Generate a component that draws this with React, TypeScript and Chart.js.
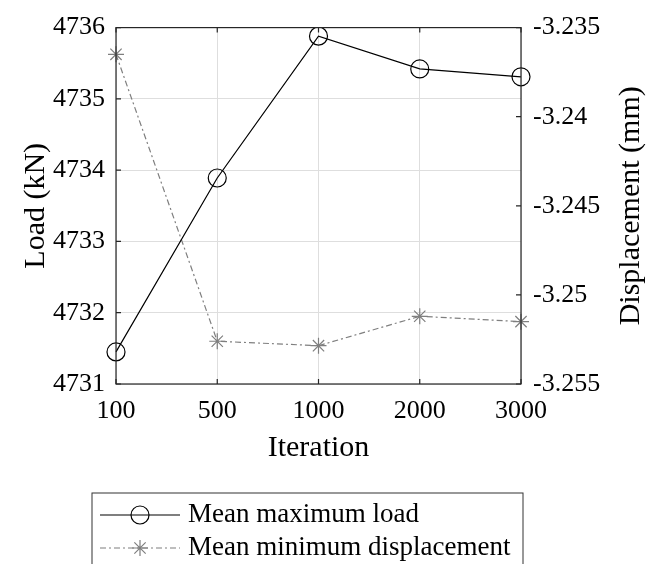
import React, { useEffect, useRef } from "react";
import { Chart, registerables } from "chart.js";

Chart.register(...registerables);

const iterations = ["100", "500", "1000", "2000", "3000"];
const meanMaxLoad = [4731.45, 4733.89, 4735.88, 4735.42, 4735.31];
const meanMinDisp = [-3.2365, -3.2526, -3.25285, -3.2512, -3.2515];
const legendLabels = ["Mean maximum load", "Mean minimum displacement"];
const rightTitle = "Displacement (mm)";

const FONT = "'Liberation Serif', 'Times New Roman', serif";
const FRAME = "#262626";
const GRID = "#dedede";
const GRAY = "#7f7f7f";

const framePlugin = {
  id: "framePlugin",
  afterDraw(chart: any) {
    const { ctx, chartArea, scales } = chart;
    const { left, right, top, bottom } = chartArea;
    ctx.save();
    ctx.strokeStyle = FRAME;
    ctx.lineWidth = 1.2;
    const tl = 5;
    ctx.beginPath();
    scales.x.ticks.forEach((_t: any, i: number) => {
      const x = scales.x.getPixelForTick(i);
      ctx.moveTo(x, bottom);
      ctx.lineTo(x, bottom - tl);
      ctx.moveTo(x, top);
      ctx.lineTo(x, top + tl);
    });
    scales.y.ticks.forEach((t: any) => {
      const y = scales.y.getPixelForValue(t.value);
      ctx.moveTo(left, y);
      ctx.lineTo(left + tl, y);
    });
    scales.y1.ticks.forEach((t: any) => {
      const y = scales.y1.getPixelForValue(t.value);
      ctx.moveTo(right, y);
      ctx.lineTo(right - tl, y);
    });
    ctx.stroke();
    ctx.strokeRect(left, top, right - left, bottom - top);

    // right axis title, reading bottom-to-top
    ctx.save();
    ctx.translate(631, (top + bottom) / 2);
    ctx.rotate(-Math.PI / 2);
    ctx.font = `30px ${FONT}`;
    ctx.fillStyle = "#000";
    ctx.textAlign = "center";
    ctx.textBaseline = "middle";
    ctx.fillText(rightTitle, 0, 0);
    ctx.restore();

    // legend
    const bx = 92, by = 493, bw = 431, bh = 100;
    ctx.lineWidth = 1;
    ctx.strokeStyle = "#333";
    ctx.strokeRect(bx, by, bw, bh);
    const rows = [515, 548];
    const ds = chart.data.datasets;
    ctx.font = `27px ${FONT}`;
    ctx.textBaseline = "middle";
    ctx.textAlign = "left";
    rows.forEach((y, i) => {
      const d = ds[i];
      ctx.strokeStyle = d.borderColor;
      ctx.lineWidth = d.borderWidth;
      ctx.setLineDash(d.borderDash || []);
      ctx.beginPath();
      ctx.moveTo(100, y);
      ctx.lineTo(180, y);
      ctx.stroke();
      ctx.setLineDash([]);
      ctx.beginPath();
      if (i === 0) {
        ctx.arc(140, y, d.pointRadius, 0, Math.PI * 2);
      } else {
        const r = d.pointRadius;
        for (let k = 0; k < 4; k++) {
          const a = (k * Math.PI) / 4;
          ctx.moveTo(140 + r * Math.cos(a), y + r * Math.sin(a));
          ctx.lineTo(140 - r * Math.cos(a), y - r * Math.sin(a));
        }
      }
      ctx.stroke();
      ctx.fillStyle = "#000";
      ctx.fillText(legendLabels[i], 188, y);
    });
    ctx.restore();
  },
};

export default function App() {
  const ref = useRef<HTMLCanvasElement>(null);
  useEffect(() => {
    const canvas = ref.current!;
    const chart = new Chart(canvas, {
      type: "line",
      data: {
        labels: iterations,
        datasets: [
          {
            label: legendLabels[0],
            data: meanMaxLoad,
            yAxisID: "y",
            borderColor: "#000",
            borderWidth: 1.2,
            pointStyle: "circle",
            pointRadius: 9,
            pointBorderWidth: 1.2,
            pointBackgroundColor: "rgba(0,0,0,0)",
            pointBorderColor: "#000",
            tension: 0,
          } as any,
          {
            label: legendLabels[1],
            data: meanMinDisp,
            yAxisID: "y1",
            borderColor: GRAY,
            borderWidth: 1.2,
            borderDash: [6, 3, 2, 3],
            pointStyle: "star",
            pointRadius: 8,
            pointBorderWidth: 1.2,
            pointBackgroundColor: GRAY,
            pointBorderColor: GRAY,
            tension: 0,
          } as any,
        ],
      },
      options: {
        responsive: false,
        animation: false,
        devicePixelRatio: 1,
        layout: { padding: { left: 18, right: 11, top: 23, bottom: 98 } },
        plugins: { legend: { display: false }, tooltip: { enabled: false } },
        scales: {
          x: {
            type: "category",
            offset: false,
            grid: { color: GRID, lineWidth: 1, drawTicks: false },
            border: { display: false },
            ticks: { color: "#000", font: { family: FONT, size: 26 }, padding: 12, maxRotation: 0 },
            title: { display: true, text: "Iteration", color: "#000", font: { family: FONT, size: 30 }, padding: 0 },
            afterFit: (s: any) => { s.height = 82; },
          },
          y: {
            position: "left",
            min: 4731,
            max: 4736,
            ticks: {
              stepSize: 1,
              color: "#000",
              font: { family: FONT, size: 26 },
              padding: 11,
              callback: (v: any) => String(Math.round(Number(v))),
            },
            grid: { color: GRID, lineWidth: 1, drawTicks: false },
            border: { display: false },
            title: { display: true, text: "Load (kN)", color: "#000", font: { family: FONT, size: 30 }, padding: 0 },
            afterFit: (s: any) => { s.width = 98; },
          },
          y1: {
            position: "right",
            min: -3.255,
            max: -3.235,
            ticks: {
              stepSize: 0.005,
              color: "#000",
              font: { family: FONT, size: 26 },
              padding: 12,
              callback: (v: any) => String(Math.round(Number(v) * 1000) / 1000),
            },
            grid: { display: false, drawTicks: false },
            border: { display: false },
            title: { display: false },
            afterFit: (s: any) => { s.width = 125; },
          },
        },
      },
      plugins: [framePlugin],
    } as any);
    return () => chart.destroy();
  }, []);
  return (
    <div style={{ position: "absolute", left: 0, top: 0, width: 657, height: 564, background: "#fff" }}>
      <canvas ref={ref} width={657} height={564} style={{ display: "block" }} />
    </div>
  );
}
